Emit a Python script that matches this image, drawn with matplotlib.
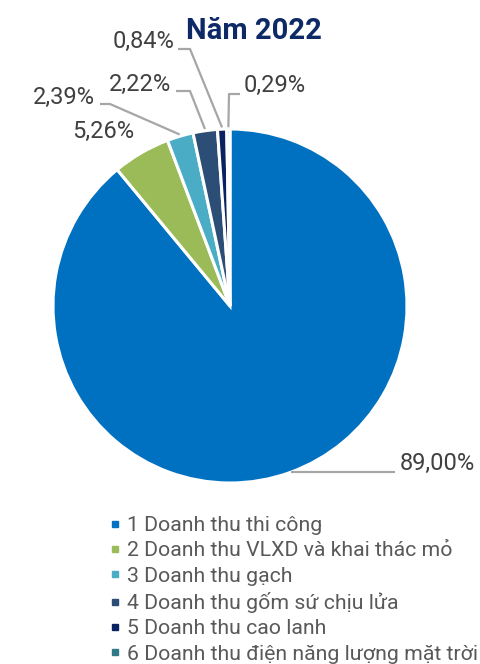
"""Cơ cấu doanh thu năm 2022 - biểu đồ tròn."""

import matplotlib

matplotlib.use("Agg")
import matplotlib.pyplot as plt
import numpy as np
from matplotlib.lines import Line2D

plt.rcParams["font.family"] = ["Roboto", "DejaVu Sans"]

categories = [
    "1 Doanh thu thi công",
    "2 Doanh thu VLXD và khai thác mỏ",
    "3 Doanh thu gạch",
    "4 Doanh thu gốm sứ chịu lửa",
    "5 Doanh thu cao lanh",
    "6 Doanh thu điện năng lượng mặt trời",
]
shares = [89.00, 5.26, 2.39, 2.22, 0.84, 0.29]
colors = ["#0070C0", "#9BBB59", "#4BACC6", "#2C4D75", "#0B2260", "#2F7A86"]
title = "Năm 2022"

W, H = 480, 664
CX, CY, R = 230, 306, 177  # pixel layout of the pie

# label layout in pixels: text anchor, alignment, leader elbow + end (None = no leader)
label_layout = [
    ((400, 463), "left", [(395, 472)]),
    ((134, 131), "right", None),
    ((95, 97), "right", [(110, 104), (100, 104)]),
    ((171, 84), "right", [(190, 91), (176, 91)]),
    ((174, 41), "right", [(190, 49), (178, 49)]),
    ((244, 85), "left", [(229, 94), (240, 94)]),
]


def px(x, y):
    return x, H - y


fig = plt.figure(figsize=(W / 100, H / 100), dpi=100)
ax = fig.add_axes([0, 0, 1, 1])

wedges, _ = ax.pie(shares, colors=colors, startangle=90, counterclock=False,
                   center=px(CX, CY), radius=R, frame=True,
                   wedgeprops=dict(edgecolor="white", linewidth=2.2))
ax.set_xlim(0, W)
ax.set_ylim(0, H)
ax.axis("off")

for wedge, value, (pos, ha, leader) in zip(wedges, shares, label_layout):
    text = f"{value:.2f}%".replace(".", ",")
    ax.text(*px(*pos), text, ha=ha, va="center", fontsize=17, color="#404040")
    if leader is None:
        continue
    mid = np.deg2rad((wedge.theta1 + wedge.theta2) / 2)
    start = (CX + R * 1.01 * np.cos(mid), CY - R * 1.01 * np.sin(mid))
    if len(leader) == 1:
        start = (start[0], leader[0][1])
    pts = [start] + leader
    xs = [p[0] for p in pts]
    ys = [H - p[1] for p in pts]
    ax.plot(xs, ys, color="#A6A6A6", linewidth=1.6, solid_capstyle="butt")

ax.text(*px(254, 31), title, ha="center", va="center", fontsize=21,
        fontweight="bold", color="#0D2A66")

handles = [Line2D([], [], linestyle="none", marker="s", markersize=5,
                  markerfacecolor=c, markeredgecolor=c) for c in colors]
fig.legend(handles, categories, loc="upper left",
           bbox_to_anchor=(108.5 / W, 1 - 516 / H), frameon=False,
           fontsize=15.3, labelcolor="#595959", handlelength=0.6,
           handletextpad=0.26, labelspacing=0.3, borderpad=0, borderaxespad=0)

fig.savefig("out.png", dpi=100)
